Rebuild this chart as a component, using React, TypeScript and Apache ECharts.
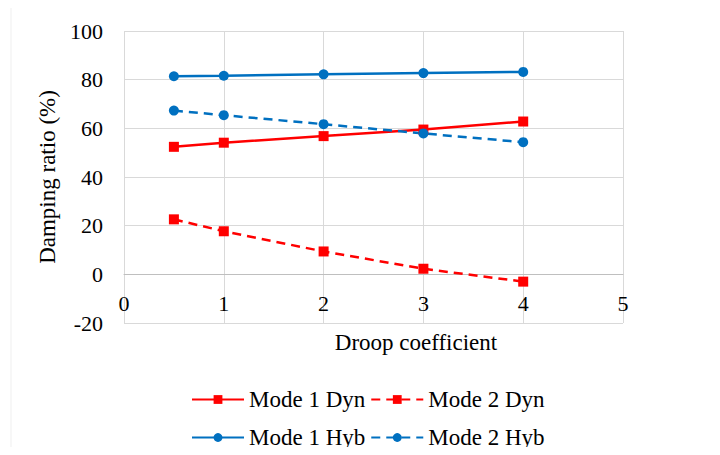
import React, { useEffect, useRef } from "react";
import * as echarts from "echarts";

const droop = [0.5, 1, 2, 3, 4];
const mode1Dyn = [52.4, 54.1, 56.8, 59.5, 62.8];
const mode2Dyn = [22.6, 17.7, 9.4, 2.3, -3.0];
const mode1Hyb = [81.4, 81.6, 82.2, 82.7, 83.2];
const mode2Hyb = [67.3, 65.4, 61.7, 57.9, 54.3];
const seriesNames = ["Mode 1 Dyn", "Mode 2 Dyn", "Mode 1 Hyb", "Mode 2 Hyb"];

const RED = "#ff0000";
const BLUE = "#0070c0";
const FONT = "'Liberation Serif', 'Times New Roman', 'DejaVu Serif', serif";

export default function App() {
  const ref = useRef<HTMLDivElement>(null);
  useEffect(() => {
    if (!ref.current) return;
    const chart = echarts.init(ref.current, null, { renderer: "svg" });
    const pair = (ys: number[]) => droop.map((x, i) => [x, ys[i]]);
    const mk = (name: string, data: number[], color: string, dashed: boolean, symbol: string, size: number) => ({
      name,
      type: "line",
      data: pair(data),
      symbol,
      symbolSize: size,
      showSymbol: true,
      itemStyle: { color },
      lineStyle: { color, width: 2.5, type: dashed ? [9, 6] : "solid" },
    });
    const legendCommon = {
      left: 191,
      padding: 0,
      itemWidth: 52,
      itemHeight: 11,
      itemGap: 5,
      textStyle: { fontFamily: FONT, fontSize: 23, color: "#000" },
    };
    // plot height 292px for 120 units -> y=0 line is 48.67px above the bottom
    const zeroOffset = -(292 * 20) / 120;
    chart.setOption({
      animation: false,
      backgroundColor: "#fff",
      textStyle: { fontFamily: FONT },
      grid: { left: 124, right: 97, top: 31, bottom: 132, containLabel: false },
      xAxis: {
        type: "value",
        min: 0,
        max: 5,
        interval: 1,
        position: "bottom",
        offset: zeroOffset,
        axisLine: { show: true, onZero: false, lineStyle: { color: "#bfbfbf", width: 1 } },
        axisTick: { show: false },
        axisLabel: { fontFamily: FONT, fontSize: 22, color: "#000", margin: 18 },
        splitLine: { show: true, lineStyle: { color: "#d9d9d9", width: 1 } },
      },
      yAxis: {
        type: "value",
        min: -20,
        max: 100,
        interval: 20,
        name: "Damping ratio (%)",
        nameLocation: "middle",
        nameGap: 62,
        nameTextStyle: { fontFamily: FONT, fontSize: 23, color: "#000" },
        axisLine: { show: false, onZero: false },
        axisTick: { show: false },
        axisLabel: { fontFamily: FONT, fontSize: 22, color: "#000", margin: 21 },
        splitLine: { show: true, lineStyle: { color: "#d9d9d9", width: 1 } },
      },
      legend: [
        { ...legendCommon, top: 388, data: [seriesNames[0], seriesNames[1]] },
        { ...legendCommon, top: 426, data: [seriesNames[2], seriesNames[3]] },
      ],
      graphic: [
        {
          type: "text",
          x: 416,
          y: 342,
          style: {
            text: "Droop coefficient",
            fontFamily: FONT,
            fontSize: 23,
            fill: "#000",
            textAlign: "center",
            textVerticalAlign: "middle",
          },
        },
        {
          type: "line",
          shape: { x1: 11, y1: 8, x2: 11, y2: 455 },
          style: { stroke: "#efefef", lineWidth: 1 },
        },
      ],
      series: [
        mk(seriesNames[0], mode1Dyn, RED, false, "rect", 10),
        mk(seriesNames[1], mode2Dyn, RED, true, "rect", 10),
        mk(seriesNames[2], mode1Hyb, BLUE, false, "circle", 10),
        mk(seriesNames[3], mode2Hyb, BLUE, true, "circle", 10),
      ],
    });
    return () => chart.dispose();
  }, []);
  return <div ref={ref} style={{ width: 720, height: 455, margin: -8 }} />;
}
